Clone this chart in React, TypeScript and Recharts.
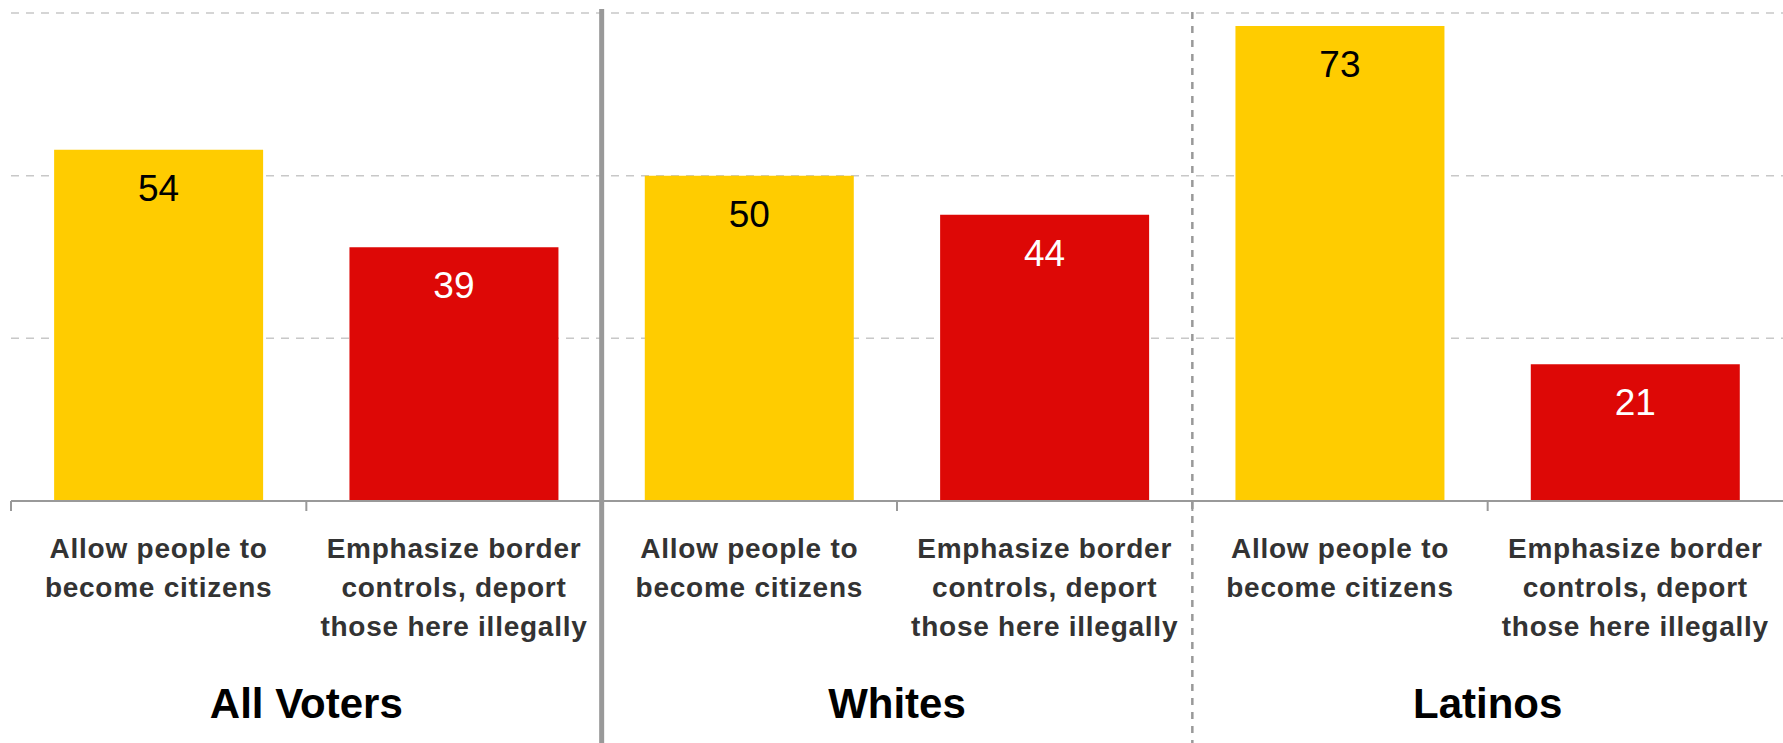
import { BarChart, Bar, Cell, XAxis, YAxis, CartesianGrid, ReferenceLine, LabelList } from "recharts";

const W = 1783;
const H = 743;
const FONT = '"Liberation Sans", Arial, Helvetica, sans-serif';

// Données (%)
const GROUPS = ["All Voters", "Whites", "Latinos"];
const OPTIONS = [
  ["Allow people to", "become citizens"],
  ["Emphasize border", "controls, deport", "those here illegally"],
];
const ALLOW = [54, 50, 73];
const DEPORT = [39, 44, 21];
const Y_TICKS = [0, 25, 50, 75];

const BAR_COLORS = ["#FFCC00", "#DD0806"];
const VALUE_COLORS = ["#000000", "#ffffff"];
const AXIS_GRAY = "#999999";

const data = GROUPS.flatMap((g, i) => [
  { key: `${g}|0`, group: g, opt: 0, value: ALLOW[i] },
  { key: `${g}|1`, group: g, opt: 1, value: DEPORT[i] },
]);

// Première catégorie de chaque groupe (sauf le premier) : séparateurs
const GROUP_STARTS = GROUPS.slice(1).map((g) => `${g}|0`);

// Étiquette de catégorie + petit trait au bord gauche de la bande
function OptionTick({ x, y, index, payload }: any) {
  const lines = OPTIONS[index % 2];
  const half = payload?.offset ?? 0;
  return (
    <g>
      <line x1={x - half} x2={x - half} y1={y} y2={y + 10} stroke={AXIS_GRAY} strokeWidth={2} />
      <text
        x={x}
        y={y + 57}
        textAnchor="middle"
        fill="#333333"
        fontSize={28}
        fontWeight="bold"
        fontFamily={FONT}
        letterSpacing={0.75}
      >
        {lines.map((l, i) => (
          <tspan key={i} x={x} dy={i === 0 ? 0 : 39}>
            {l}
          </tspan>
        ))}
      </text>
    </g>
  );
}

// Nom du groupe centré entre ses deux barres
function GroupTick({ x, y, index, payload }: any) {
  if (index % 2 === 0) return <g />;
  const half = payload?.offset ?? 0;
  return (
    <text x={x - half} y={y + 57} textAnchor="middle" fill="#000" fontSize={42} fontWeight="bold" fontFamily={FONT}>
      {payload.value}
    </text>
  );
}

function ValueLabel({ x, y, width, value, index }: any) {
  return (
    <text
      x={x + width / 2}
      y={y + 51}
      textAnchor="middle"
      fill={VALUE_COLORS[data[index].opt]}
      fontSize={37}
      fontFamily={FONT}
    >
      {value}
    </text>
  );
}

// Séparateurs verticaux prolongés jusqu'en bas de l'image
function separator(solid: boolean) {
  return (p: any) => {
    const top = Math.min(p.y1, p.y2);
    return (
      <line
        x1={p.x1}
        x2={p.x1}
        y1={top - (solid ? 4 : 1)}
        y2={H}
        stroke={AXIS_GRAY}
        strokeWidth={solid ? 5 : 2.5}
        strokeDasharray={solid ? undefined : "7 7"}
      />
    );
  };
}

export default function App() {
  return (
    <div style={{ position: "absolute", left: 0, top: 0, width: W, height: H, background: "#fff" }}>
      <BarChart width={W} height={H} data={data} margin={{ top: 13, right: 0, left: 11, bottom: 0 }} barCategoryGap="14.6%">
        <CartesianGrid xAxisId="cat" vertical={false} stroke="#c8c8c8" strokeWidth={1.5} strokeDasharray="8 7" />
        <XAxis
          xAxisId="cat"
          dataKey="key"
          interval={0}
          height={160}
          tickSize={0}
          tickMargin={0}
          axisLine={{ stroke: AXIS_GRAY, strokeWidth: 2 }}
          tickLine={false}
          tick={OptionTick}
        />
        <XAxis
          xAxisId="g"
          dataKey="group"
          interval={0}
          height={82}
          tickSize={0}
          tickMargin={0}
          axisLine={false}
          tickLine={false}
          tick={GroupTick}
        />
        <YAxis hide domain={[0, 75]} ticks={Y_TICKS} />
        <Bar xAxisId="cat" dataKey="value" isAnimationActive={false}>
          {data.map((d, i) => (
            <Cell key={i} fill={BAR_COLORS[d.opt]} />
          ))}
          <LabelList dataKey="value" content={ValueLabel} />
        </Bar>
        {GROUP_STARTS.map((k, i) => (
          <ReferenceLine key={k} xAxisId="cat" x={k} position="start" shape={separator(i === 0)} />
        ))}
      </BarChart>
    </div>
  );
}
